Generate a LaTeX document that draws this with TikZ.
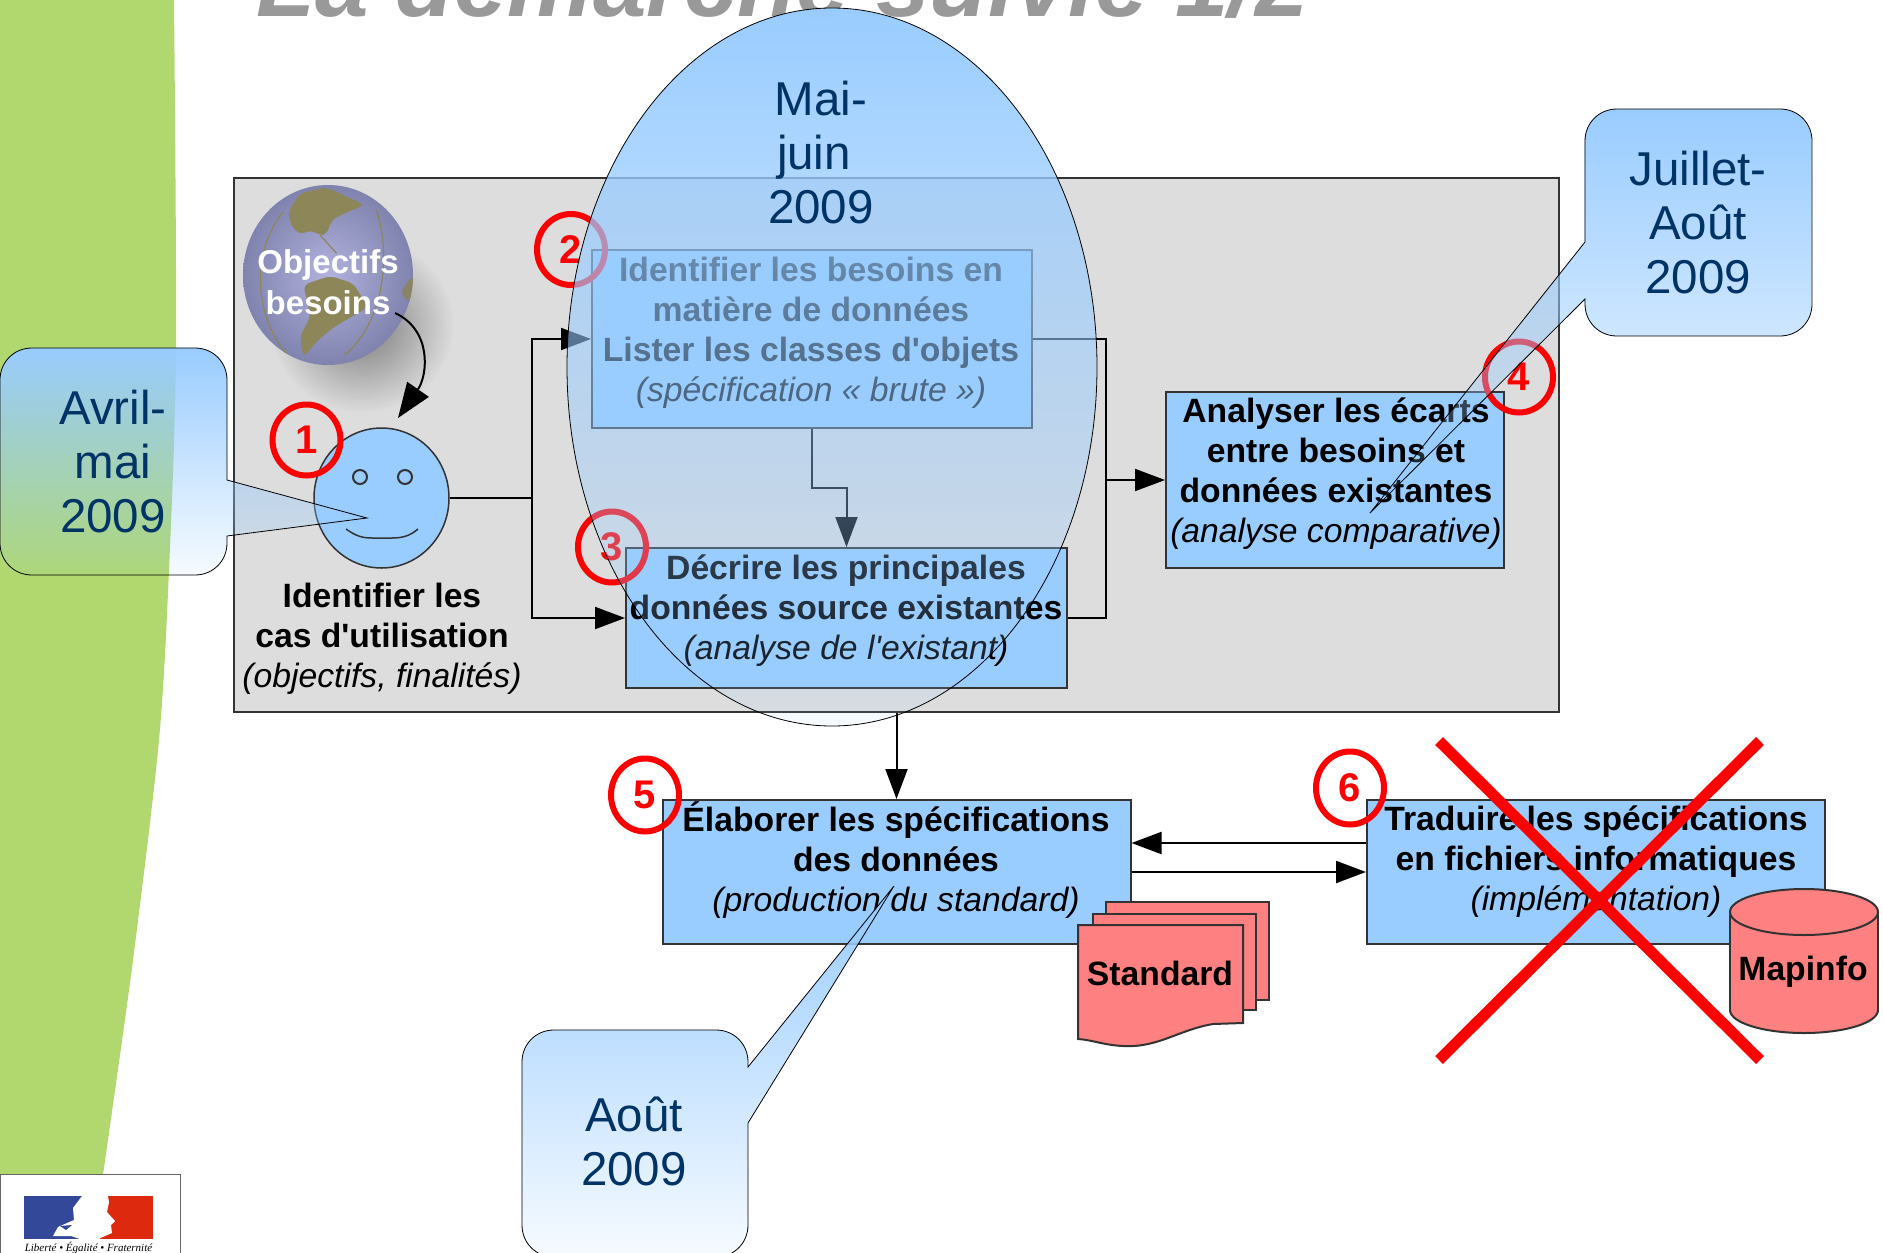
\documentclass[tikz,border=0pt]{standalone}
\usepackage{fontspec}
\setmainfont{Liberation Sans}
\newfontfamily\logofont{Liberation Serif}
\usetikzlibrary{arrows.meta,fadings,shapes.geometric}
\definecolor{sky}{HTML}{99CCFF}
\definecolor{navy}{HTML}{003366}
\definecolor{leaf}{HTML}{B0D86E}
\definecolor{salmon}{HTML}{FF8080}
\definecolor{panelgray}{HTML}{DDDDDD}
\definecolor{edge}{HTML}{333333}
\definecolor{land}{HTML}{8D8658}
\definecolor{globelight}{HTML}{B2B2DE}
\definecolor{globedark}{HTML}{7F83AE}
\definecolor{flagblue}{HTML}{334899}
\definecolor{flagred}{HTML}{DD2A0F}
\tikzfading[name=fadedown, top color=transparent!0, bottom color=transparent!92]
\tikzfading[name=softedge, inner color=transparent!55, outer color=transparent!100]
\tikzset{
    taskbox/.style={draw=edge, line width=2pt, fill=sky, minimum width=#1, inner sep=0pt},
    tasktext/.style={align=center, font=\fontsize{33.7}{40}\selectfont},
    ring/.style={ellipse, draw=red, line width=6pt, text=red, inner sep=0pt, minimum width=68pt, minimum height=71pt, font=\fontsize{40}{40}\selectfont\bfseries},
    flow/.style={draw=black, line width=2pt, -{Triangle[length=30pt,width=22pt]}},
    plainflow/.style={draw=black, line width=2pt},
    callout/.style={draw=black, line width=0.8pt, preaction={fill=sky, path fading=fadedown}},
    date/.style={align=center, text=navy, font=\fontsize{47.5}{54}\selectfont},
    docpage/.style={draw=edge, line width=2pt, fill=salmon}
}
\begin{document}
\begin{tikzpicture}[x=1pt, y=-1pt]
    \useasboundingbox (0,0) rectangle (1883,1253);

    % Green band and title
    \fill[leaf] (0,0) -- plot[smooth] coordinates {(174,0) (176,350) (169,570) (159,740) (133,960) (103,1175) (92,1253)} -- (0,1253) -- cycle;
    \node[anchor=base, text=black!40, font=\fontsize{96.1}{97}\selectfont\bfseries\itshape] (title) at (783,16) {La démarche suivie 1/2};

    % Logo
    \node[draw=black!60, line width=1pt, fill=white, minimum width=180pt, minimum height=90pt, anchor=north west, inner sep=0pt] (logo) at (0,1174) {};
    \fill[flagblue] (24,1196) rectangle (85,1239);
    \fill[flagred] (100,1196) rectangle (153,1239);
    \fill[white] (82,1196) -- (108,1196) -- (109,1202) -- (107,1212) -- (115,1221) -- (111,1225) -- (112,1233) -- (98,1239) -- (80,1239) -- (71,1236) -- (53,1236) -- (58,1227) -- (74,1220) -- (73,1208) -- cycle;
    \fill[flagblue] (60,1226) -- (72,1225) -- (66,1230) -- cycle;
    \node[text=black, font=\fontsize{11}{12}\selectfont\logofont\itshape] (motto) at (88.5,1248) {Liberté • Égalité • Fraternité};

    % Grey panel
    \node[draw=edge, line width=2.5pt, fill=panelgray, minimum width=1325pt, minimum height=534pt, inner sep=0pt] (panel) at (896.5,445) {};

    % Globe with its shadow
    \fill[black, path fading=softedge] (362,325) ellipse (92 and 88);
    \node[ellipse, inner color=globelight, outer color=globedark, minimum width=170pt, minimum height=180pt, inner sep=0pt] (globe) at (328,275) {};
    \begin{scope}
        \clip (328,275) ellipse (85 and 90);
        \begin{scope}[shift={(220,170)}, x=0.333pt, y=-0.333pt, rounded corners=6pt]
            \fill[land] (205,125) -- (240,70) -- (320,52) -- (435,105) -- (385,125) -- (335,150) -- (320,195) -- (300,195) -- (270,180) -- (240,195) -- (212,165) -- cycle;
            \fill[land] (250,345) -- (330,318) -- (400,340) -- (445,412) -- (345,470) -- (295,510) -- (250,562) -- (240,500) -- (272,440) -- cycle;
            \fill[land!70!gray] (540,370) -- (580,315) -- (585,410) -- cycle;
            \draw[land, line width=1.2pt] (190,125) .. controls (90,250) and (100,450) .. (215,570);
            \draw[land, line width=1.2pt] (470,120) .. controls (520,280) and (480,470) .. (375,555);
            \draw[land, line width=1.2pt] (300,195) -- (350,250);
        \end{scope}
    \end{scope}
    \node[text=white, align=center, font=\fontsize{33}{41}\selectfont\bfseries] (globetext) at (328,282) {Objectifs\\besoins};

    % Smiley
    \node[ellipse, draw=edge, line width=1.5pt, fill=sky, minimum width=135pt, minimum height=140pt, inner sep=0pt] (smile) at (381.5,498) {};
    \node[circle, draw=edge, line width=2pt, fill=sky, minimum size=14pt, inner sep=0pt] (eyeleft) at (360,477) {};
    \node[circle, draw=edge, line width=2pt, fill=sky, minimum size=14pt, inner sep=0pt] (eyeright) at (405,477) {};
    \draw[edge, line width=1.5pt] (346,529) .. controls (356,536) and (362,538) .. (372,538) -- (392,538) .. controls (402,538) and (410,536) .. (418,529);
    \node[tasktext] (smiletext) at (382,638.5) {\textbf{Identifier les}\\\textbf{cas d\textquotesingle{}utilisation}\\\textit{(objectifs, finalités)}};

    % Task boxes
    \node[taskbox=440pt, minimum height=178pt] (boxB) at (812,339) {};
    \node[tasktext] (boxBtext) at (811,332.5) {\textbf{Identifier les besoins en}\\\textbf{matière de données}\\\textbf{Lister les classes d\textquotesingle{}objets}\\\textit{(spécification « brute »)}};
    \node[taskbox=441pt, minimum height=140pt] (boxC) at (846.5,618) {};
    \node[tasktext] (boxCtext) at (846,610.5) {\textbf{Décrire les principales}\\\textbf{données source existantes}\\\textit{(analyse de l\textquotesingle{}existant)}};
    \node[taskbox=338pt, minimum height=176pt] (boxD) at (1335,480) {};
    \node[tasktext] (boxDtext) at (1336,474) {\textbf{Analyser les écarts}\\\textbf{entre besoins et}\\\textbf{données existantes}\\\textit{(analyse comparative)}};
    \node[taskbox=468pt, minimum height=144pt] (boxE) at (896.5,872) {};
    \node[tasktext] (boxEtext) at (896,860) {\textbf{Élaborer les spécifications}\\\textbf{des données}\\\textit{(production du standard)}};
    \node[taskbox=458pt, minimum height=144pt] (boxF) at (1596,872) {};
    \node[tasktext] (boxFtext) at (1596,862) {\textbf{Traduire les spécifications}\\\textbf{en fichiers informatiques}\\\textit{(implémentation)}};

    % Connectors
    \coordinate (forkA) at (532,498);
    \coordinate (forkB) at (1106,480);
    \coordinate (bendC) at (812,488);
    \coordinate (globefoot) at (395,313);
    \coordinate (smiletip) at (398,418);
    \draw[line width=2pt, -{Triangle[length=35pt,width=26pt]}] (globefoot) .. controls (432,330) and (428,375) .. (smiletip);
    \draw[plainflow] (smile.east) -- (forkA);
    \draw[flow] (forkA) |- (boxB.west);
    \draw[flow] (forkA) |- (boxC.west);
    \draw[plainflow] (boxB.east) -| (forkB);
    \draw[plainflow] (boxC.east) -| (forkB);
    \draw[flow] (forkB) -- (boxD.west);
    \draw[flow] (boxB.south) -- (bendC) -| (boxC.north);
    \draw[flow] (panel.south) -- (boxE.north);
    \draw[flow] ([yshift=29pt]boxF.west) -- ([yshift=29pt]boxE.east);
    \draw[flow] (boxE.east) -- (boxF.west);

    % Numbered marks
    \node[ring] (markA) at (306.5,440) {1};
    \node[ring] (markB) at (571,249.5) {2};
    \node[ring] (markC) at (612,547) {3};
    \node[ring] (markD) at (1519,377) {4};
    \node[ring, minimum height=73pt] (markE) at (645,795) {5};
    \node[ring, minimum height=73pt] (markF) at (1350,788) {6};

    % Standard stack
    \foreach \dx/\dy/\bot in {0/902/1000, -13/914/1010}
        \draw[docpage] (1106+\dx,\dy) rectangle (1269+\dx,\bot);
    \draw[docpage] (1078,925) -- (1243,925) -- (1243,1023) -- (1213,1024) .. controls (1178,1030) and (1158,1048) .. (1123,1046) .. controls (1103,1045) and (1093,1040) .. (1078,1039) -- cycle;
    \node[font=\fontsize{33.7}{40}\selectfont\bfseries] (standard) at (1160,973) {Standard};

    % Mapinfo drum
    \draw[docpage] (1804,1010) ellipse (74 and 23);
    \fill[salmon] (1730,912) rectangle (1878,1010);
    \draw[edge, line width=2pt] (1730,912) -- (1730,1010);
    \draw[edge, line width=2pt] (1878,912) -- (1878,1010);
    \draw[docpage] (1804,912) ellipse (74 and 23);
    \node[font=\fontsize{33.7}{40}\selectfont\bfseries] (mapinfo) at (1803,972) {Mapinfo};

    % Red cross
    \draw[red, line width=11pt] (1439,741) -- (1760,1060);
    \draw[red, line width=11pt] (1760,741) -- (1439,1060);

    % Date callouts
    \draw[callout] (227,480) -- (367,518) -- (227,536) -- (227,543) .. controls (227,561) and (213,575) .. (195,575) -- (32,575) .. controls (14,575) and (0,561) .. (0,543) -- (0,380) .. controls (0,362) and (14,348) .. (32,348) -- (195,348) .. controls (213,348) and (227,362) .. (227,380) -- cycle;
    \node[date] (dateA) at (113,462) {Avril-\\mai\\2009};
    \draw[callout] (1585,242) -- (1370,513) -- (1585,299) -- (1585,304) .. controls (1585,322) and (1599,336) .. (1617,336) -- (1780,336) .. controls (1798,336) and (1812,322) .. (1812,304) -- (1812,141) .. controls (1812,123) and (1798,109) .. (1780,109) -- (1617,109) .. controls (1599,109) and (1585,123) .. (1585,141) -- cycle;
    \node[date] (dateC) at (1698,223) {Juillet-\\Août\\2009};
    \draw[callout] (748,1067) -- (894,886) -- (748,1123) -- (748,1225) .. controls (748,1243) and (734,1257) .. (716,1257) -- (554,1257) .. controls (536,1257) and (522,1243) .. (522,1225) -- (522,1062) .. controls (522,1044) and (536,1030) .. (554,1030) -- (716,1030) .. controls (734,1030) and (748,1044) .. (748,1062) -- cycle;
    \node[date] (dateD) at (634,1141) {Août\\2009};
    \draw[callout] (832,367) ellipse (265 and 359);
    \node[date] (dateB) at (821,153) {Mai-\\juin\rule{14pt}{0pt}\\2009};
\end{tikzpicture}
\end{document}
